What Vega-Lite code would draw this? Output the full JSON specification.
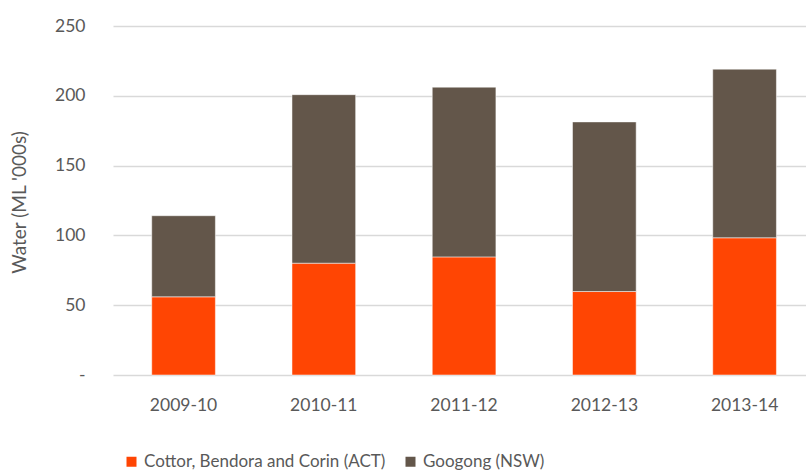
{
  "$schema": "https://vega.github.io/schema/vega-lite/v6.json",
  "width": 693,
  "height": 349,
  "autosize": {"type": "none"},
  "padding": {"left": 113, "top": 26, "right": 0, "bottom": 95},
  "background": "white",
  "data": {
    "values": [
      {"year": "2009-10", "source": "Cottor, Bendora and Corin (ACT)", "rank": 1, "water": 56.0},
      {"year": "2009-10", "source": "Googong (NSW)", "rank": 2, "water": 58.1},
      {"year": "2010-11", "source": "Cottor, Bendora and Corin (ACT)", "rank": 1, "water": 80.1},
      {"year": "2010-11", "source": "Googong (NSW)", "rank": 2, "water": 120.7},
      {"year": "2011-12", "source": "Cottor, Bendora and Corin (ACT)", "rank": 1, "water": 84.6},
      {"year": "2011-12", "source": "Googong (NSW)", "rank": 2, "water": 121.6},
      {"year": "2012-13", "source": "Cottor, Bendora and Corin (ACT)", "rank": 1, "water": 59.8},
      {"year": "2012-13", "source": "Googong (NSW)", "rank": 2, "water": 121.5},
      {"year": "2013-14", "source": "Cottor, Bendora and Corin (ACT)", "rank": 1, "water": 98.3},
      {"year": "2013-14", "source": "Googong (NSW)", "rank": 2, "water": 120.8}
    ]
  },
  "mark": {"type": "bar", "stroke": "#ffffff", "strokeWidth": 1, "strokeOpacity": 0.5},
  "encoding": {
    "x": {
      "field": "year",
      "type": "nominal",
      "scale": {"paddingInner": 0.546, "paddingOuter": 0.2435, "align": 0.567},
      "axis": {
        "title": null,
        "labelAngle": 0,
        "labelFont": "Lato",
        "labelFontSize": 17.5,
        "labelColor": "#595959",
        "labelPadding": 21,
        "ticks": false,
        "domain": false
      }
    },
    "y": {
      "field": "water",
      "type": "quantitative",
      "stack": "zero",
      "scale": {"domain": [0, 250], "nice": false},
      "axis": {
        "title": "Water (ML '000s)",
        "titleFont": "Lato",
        "titleFontSize": 19,
        "titleFontWeight": "normal",
        "titleColor": "#595959",
        "titleX": -94,
        "titleY": 176,
        "titleAngle": -90,
        "titleAlign": "center",
        "titleBaseline": "middle",
        "values": [0, 50, 100, 150, 200, 250],
        "labelExpr": "datum.value == 0 ? '-' : datum.label",
        "labelFont": "Lato",
        "labelFontSize": 17.5,
        "labelColor": "#595959",
        "labelPadding": 28,
        "ticks": false,
        "domain": false,
        "gridColor": "#d9d9d9",
        "gridWidth": 1.3
      }
    },
    "order": {"field": "rank", "type": "quantitative", "sort": "ascending"},
    "color": {
      "field": "source",
      "type": "nominal",
      "scale": {
        "domain": ["Cottor, Bendora and Corin (ACT)", "Googong (NSW)"],
        "range": ["#ff4503", "#63564a"]
      },
      "legend": {
        "title": null,
        "orient": "none",
        "direction": "horizontal",
        "legendX": 10,
        "legendY": 427,
        "symbolType": "square",
        "symbolSize": 100,
        "symbolStrokeWidth": 0,
        "labelFont": "Lato",
        "labelFontSize": 17,
        "labelColor": "#595959",
        "labelOffset": 4,
        "columnPadding": 16,
        "labelLimit": 400
      }
    }
  },
  "config": {"view": {"stroke": null}}
}
